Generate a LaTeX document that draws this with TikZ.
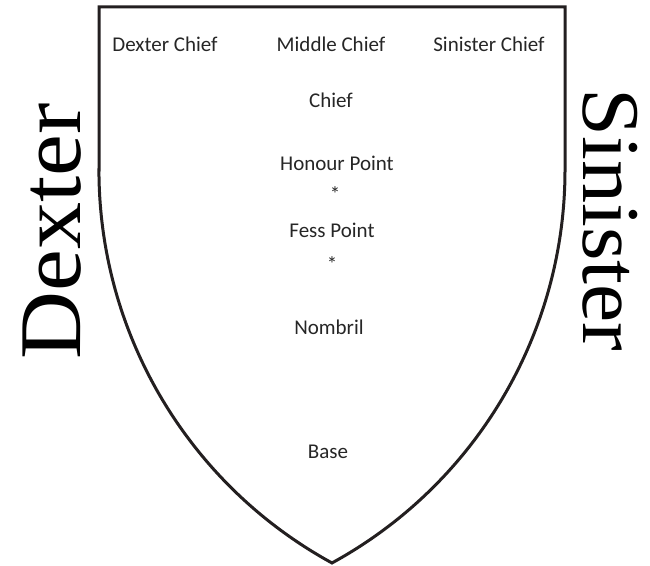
\documentclass[tikz,border=0pt]{standalone}
\usepackage{fontspec}
\setmainfont{Carlito}
\newfontfamily\sideserif{Liberation Serif}
\definecolor{shieldline}{HTML}{231F20}
\begin{document}
\begin{tikzpicture}[x=1pt,y=1pt,
  lbl/.style={font=\fontsize{21}{25}\selectfont, inner sep=0pt, anchor=base, text=black!85},
  side/.style={inner sep=0pt, anchor=base}]
\useasboundingbox (0,0) rectangle (650,565);
% shield outline
\draw[line width=3pt, color=shieldline, line join=miter]
  (99,395) -- (99,558) -- (565,558) -- (565,395)
  arc[start angle=0, end angle=-61.33, radius=447.9]
  arc[start angle=241.33, end angle=180, radius=447.9] -- cycle;
% side labels
\node[side, rotate=90, font=\sideserif\fontsize{88}{88}\selectfont] (dexter) at (80,334) {\scalebox{1.07}[1]{Dexter}};
\node[side, rotate=-90, font=\sideserif\fontsize{82}{82}\selectfont] (sinister) at (583,345) {\scalebox{1.05}[1]{Sinister}};
% inner labels
\node[lbl] (dchief) at (165,513) {Dexter Chief};
\node[lbl] (mchief) at (331,513) {Middle Chief};
\node[lbl] (schief) at (489,513) {Sinister Chief};
\node[lbl] (chief) at (331,457) {Chief};
\node[lbl] (honour) at (337,394) {Honour Point};
\node[lbl] (star1) at (335,363) {*};
\node[lbl] (fess) at (332,327) {Fess Point};
\node[lbl] (star2) at (332,293) {*};
\node[lbl] (nombril) at (329,230) {Nombril};
\node[lbl] (base) at (328,107) {Base};
\end{tikzpicture}
\end{document}
